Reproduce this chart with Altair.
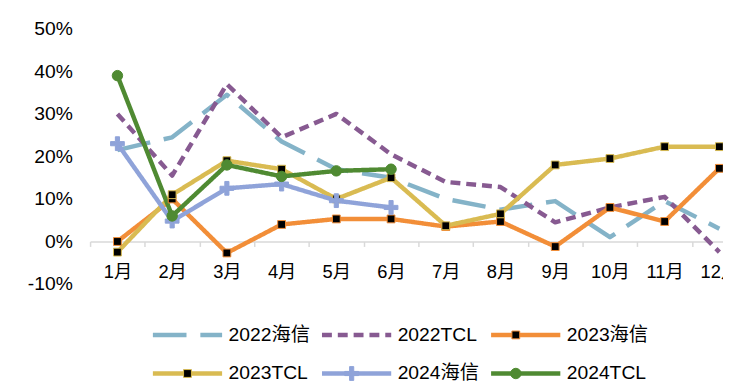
import altair as alt
import pandas as pd

FONT = "Liberation Sans, Arial, Noto Sans CJK SC"

months = ["1月", "2月", "3月", "4月", "5月", "6月", "7月", "8月", "9月", "10月", "11月", "12月"]
series_names = ["2022海信", "2022TCL", "2023海信", "2023TCL", "2024海信", "2024TCL"]

hx2022 = [21.5, 24.5, 34.5, 23.5, 17.0, 15.0, 10.0, 7.5, 9.5, 1.0, 9.5, 3.0]
tcl2022 = [30.0, 15.5, 37.0, 24.5, 30.0, 20.5, 14.0, 12.8, 4.5, 8.0, 10.5, -2.5]
hx2023 = [0.0, 10.0, -2.7, 4.0, 5.3, 5.3, 3.5, 4.7, -1.2, 8.0, 4.7, 17.2]
tcl2023 = [-2.5, 11.0, 19.0, 17.0, 10.0, 15.0, 3.7, 6.5, 18.0, 19.5, 22.3, 22.3]
hx2024 = [23.0, 4.8, 12.5, 13.5, 9.6, 8.0]
tcl2024 = [39.0, 6.0, 18.0, 15.3, 16.6, 17.0]

colors = ["#84B3C8", "#875A91", "#F28E38", "#D9BB52", "#8FA3D9", "#4F8A32"]
dashes = [[34, 14], [10, 6], [1, 0], [1, 0], [1, 0], [1, 0]]
widths = [4.5, 4.5, 4.5, 4.5, 5.5, 5.5]

# legend line symbol: 70px wide at size 400 (unit = 10px)
LINE_SYMBOL = "M-3.5,0H3.5"
# marker paths at size 576 (unit = 12px); the moves give every marker the same 75px footprint
BOUND = "M-3.125,0M3.125,0"
SQUARE = BOUND + "M-0.33,-0.33H0.33V0.33H-0.33Z"
PLUS = BOUND + "M-0.175,-0.58H0.175V-0.175H0.58V0.175H0.175V0.58H-0.175V0.175H-0.58V-0.175H-0.175Z"
CIRCLE = BOUND + "M-0.44,0A0.44,0.44 0 1,0 0.44,0A0.44,0.44 0 1,0 -0.44,0Z"
marker_paths = [BOUND, BOUND, SQUARE, SQUARE, PLUS, CIRCLE]
marker_fill = ["#000000", "#000000", "#000000", "#000000", "#8FA3D9", "#4F8A32"]
marker_stroke = ["#000000", "#000000", "#F28E38", "#D9BB52", "#8FA3D9", "#4F8A32"]

# marker legend uses the same names with a zero-width space so it stays a separate legend
ZW = "\u200b"
marker_names = [n + ZW for n in series_names]

rows = []
for name, vals in zip(series_names, [hx2022, tcl2022, hx2023, tcl2023, hx2024, tcl2024]):
    for m, v in zip(months, vals):
        rows.append({"month": m, "series": name, "series2": name + ZW, "value": v})
df = pd.DataFrame(rows)

x_enc = alt.X(
    "month:N", sort=months,
    scale=alt.Scale(type="band", paddingInner=0, paddingOuter=0),
    axis=alt.Axis(title=None, orient="bottom", offset=-43, domainColor="#D9D9D9", domainWidth=1.5,
                  tickColor="#D9D9D9", tickWidth=1.5, tickSize=5, tickBand="extent",
                  labelFontSize=18.5, labelFont=FONT, labelColor="#000000", labelPadding=16,
                  labelAngle=0, grid=False),
)
y_enc = alt.Y(
    "value:Q",
    scale=alt.Scale(domain=[-10, 50], nice=False, zero=False),
    axis=alt.Axis(title=None, values=[-10, 0, 10, 20, 30, 40, 50], labelExpr="datum.value + '%'",
                  domain=False, ticks=False, tickSize=0, grid=False, labelPadding=18,
                  labelFontSize=19.5, labelFont=FONT, labelColor="#000000"),
)

common_leg = dict(title=None, orient="none", legendX=86, legendY=297, columns=3, direction="horizontal",
                  columnPadding=2, rowPadding=17, labelFontSize=19.5, labelFont=FONT,
                  labelOffset=29, labelLimit=0)
legA = alt.Legend(symbolType=LINE_SYMBOL, symbolSize=400, symbolStrokeWidth=5,
                  labelColor="#000000", **common_leg)
legB = alt.Legend(symbolSize=576, symbolStrokeWidth=1, labelOpacity=0, labelColor="#000000", **common_leg)

lines = alt.Chart(df).mark_line(strokeCap="butt", strokeJoin="round").encode(
    x=x_enc, y=y_enc,
    color=alt.Color("series:N", scale=alt.Scale(domain=series_names, range=colors), legend=legA),
    strokeDash=alt.StrokeDash("series:N", scale=alt.Scale(domain=series_names, range=dashes), legend=legA),
    strokeWidth=alt.StrokeWidth("series:N", scale=alt.Scale(domain=series_names, range=widths), legend=None),
)

points = alt.Chart(df).mark_point(filled=True, size=576, opacity=1, strokeWidth=1).encode(
    x=x_enc, y=y_enc,
    shape=alt.Shape("series2:N", scale=alt.Scale(domain=marker_names, range=marker_paths), legend=legB),
    fill=alt.Fill("series2:N", scale=alt.Scale(domain=marker_names, range=marker_fill), legend=legB),
    stroke=alt.Stroke("series2:N", scale=alt.Scale(domain=marker_names, range=marker_stroke), legend=legB),
)

chart = alt.layer(lines, points).properties(
    width=664, height=258,
    padding={"left": 83, "top": 19, "right": -24, "bottom": 97},
    autosize=alt.AutoSizeParams(type="none"),
    background="white",
).configure_view(stroke=None)

chart.save("out.html", embed_options={"renderer": "svg", "actions": False})
